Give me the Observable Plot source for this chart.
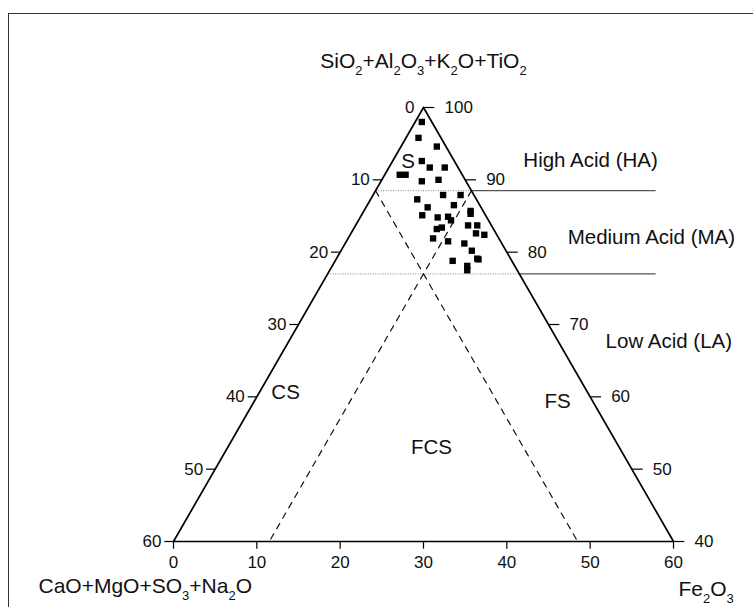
<!DOCTYPE html>
<html>
<head>
<meta charset="utf-8">
<script src="https://cdn.jsdelivr.net/npm/d3@7"></script>
<script src="https://cdn.jsdelivr.net/npm/@observablehq/plot@0.6"></script>
<style>
  html, body { margin: 0; padding: 0; background: #fff; overflow: hidden; }
  #wrap { position: relative; width: 753px; height: 607px; overflow: hidden; }
  #frame { position: absolute; left: 8px; top: 13px; width: 800px; height: 700px; border: 1px solid #333; box-sizing: border-box; pointer-events: none; }
  #chart { position: absolute; left: 0; top: 0; }
</style>
</head>
<body>
<div id="wrap"><div id="chart"></div><div id="frame"></div></div>
<script>
// ---- Data (ternary values, %) ----
// SiO2+Al2O3+K2O+TiO2
const sakt = [98.0, 95.8, 94.6, 92.6, 91.7, 91.7, 90.7, 90.7, 89.8, 90.0, 87.9, 87.9, 87.3, 86.5, 86.2, 85.7, 85.3, 85.1, 84.8, 84.9, 84.4, 83.7, 83.7, 83.4, 83.2, 82.6, 82.4, 81.9, 81.5, 81.2, 80.2, 79.1, 79.0, 78.8, 78.1, 77.5];
// Fe2O3
const fe2o3 = [0.8, 1.5, 4.3, 3.5, 4.9, 6.7, 1.8, 2.5, 4.9, 6.8, 8.4, 10.5, 5.6, 10.4, 7.4, 12.8, 13.0, 7.3, 9.3, 10.5, 11.1, 13.5, 14.6, 10.5, 10.0, 15.0, 16.1, 10.2, 12.2, 14.3, 15.7, 16.9, 17.1, 14.1, 16.2, 16.5];
// CaO+MgO+SO3+Na2O = remainder
const cmsn = sakt.map((a, i) => +(100 - a - fe2o3[i]).toFixed(1));

// Axis ticks
const leftTicks = [0, 10, 20, 30, 40, 50, 60];        // CaO+MgO+SO3+Na2O
const rightTicks = [100, 90, 80, 70, 60, 50, 40];     // SiO2+Al2O3+K2O+TiO2
const bottomTicks = [0, 10, 20, 30, 40, 50, 60];      // Fe2O3

// Classification boundaries
const acidLimits = [88.5, 77];     // HA / MA / LA on SiO2+Al2O3+K2O+TiO2
const fieldLimit = 11.5;           // dashed boundaries (C = 11.5, F = 11.5)
const minA = 40;

// Titles and labels
const topTitle = "SiO2+Al2O3+K2O+TiO2";
const leftTitle = "CaO+MgO+SO3+Na2O";
const rightTitle = "Fe2O3";
const acidNames = ["High Acid (HA)", "Medium Acid (MA)", "Low Acid (LA)"];
const fieldNames = ["S", "CS", "FS", "FCS"];

// ---- Ternary -> plane (x = F - C, y = A) ----
const P = (A, C, F) => ({x: F - C, y: A});

const tri = [P(100, 0, 0), P(40, 60, 0), P(40, 0, 60), P(100, 0, 0)];
const dashC = [P(100 - fieldLimit, fieldLimit, 0), P(minA, fieldLimit, 100 - minA - fieldLimit)];
const dashF = [P(100 - fieldLimit, 0, fieldLimit), P(minA, 100 - minA - fieldLimit, fieldLimit)];
const lineEndX = 55.7;
const dotted = acidLimits.map(a => ({x1: -(100 - a), x2: 100 - a, y: a}));
const solid = acidLimits.map(a => ({x1: 100 - a, x2: lineEndX, y: a}));

const pts = sakt.map((a, i) => P(a, cmsn[i], fe2o3[i]));

const leftPos = leftTicks.map(c => ({...P(100 - c, c, 0), v: c}));
const rightPos = rightTicks.map(a => ({...P(a, 0, 100 - a), v: a}));
const bottomPos = bottomTicks.map(f => ({...P(minA, 100 - minA - f, f), v: f}));

const acidMid = [{x: 40.1, y: 92.7, t: acidNames[0]}];
const acidStart = [
  {x: 34.6, y: 82.0, t: acidNames[1]},
  {x: 43.7, y: 67.6, t: acidNames[2]}
];
const fieldLabels = [
  {x: -3.7, y: 92.5, t: fieldNames[0]},
  {x: -33.1, y: 60.6, t: fieldNames[1]},
  {x: 32.2, y: 59.3, t: fieldNames[2]},
  {x: 1.9, y: 53.0, t: fieldNames[3]}
];
const titleMid = [{x: 0, y: 106.4, t: topTitle}];
const titleStart = [
  {x: -92.4, y: 33.8, t: leftTitle},
  {x: 61.2, y: 33.4, t: rightTitle}
];
const allTitles = [topTitle, leftTitle, rightTitle];

const FONT = "'Liberation Sans', Arial, Helvetica, sans-serif";
const INK = "#111";

const plot = Plot.plot({
  width: 753,
  height: 607,
  margin: 0,
  style: {fontFamily: FONT, background: "transparent", overflow: "visible"},
  x: {type: "linear", domain: [-60, 60], range: [173, 673], axis: null},
  y: {type: "linear", domain: [40, 100], range: [541, 107], axis: null},
  marks: [
    // dotted acid boundaries inside triangle
    Plot.link(dotted, {x1: "x1", x2: "x2", y1: "y", y2: "y", stroke: "#9a9a9a", strokeWidth: 1.2, strokeDasharray: "1,1.5"}),
    // solid extensions to the right
    Plot.link(solid, {x1: "x1", x2: "x2", y1: "y", y2: "y", stroke: "#555", strokeWidth: 1.2}),
    // dashed field boundaries
    Plot.line(dashC, {x: "x", y: "y", stroke: "#111", strokeWidth: 1.2, strokeDasharray: "6,6"}),
    Plot.line(dashF, {x: "x", y: "y", stroke: "#111", strokeWidth: 1.2, strokeDasharray: "6,6"}),
    // triangle
    Plot.line(tri, {x: "x", y: "y", stroke: "#000", strokeWidth: 1.7, strokeLinejoin: "miter"}),
    // left ticks (no tick at apex)
    Plot.link(leftPos.filter(d => d.v > 0), {x1: "x", y1: "y", x2: d => d.x - 2.2, y2: "y", stroke: "#000", strokeWidth: 1.2}),
    Plot.text(leftPos.filter(d => d.v > 0), {x: "x", y: "y", text: d => String(d.v), dx: -12, textAnchor: "end", fontSize: 17, fill: INK}),
    Plot.text(leftPos.filter(d => d.v === 0), {x: "x", y: "y", text: d => String(d.v), dx: -9, textAnchor: "end", fontSize: 17, fill: INK}),
    // right ticks
    Plot.link(rightPos, {x1: "x", y1: "y", x2: d => d.x + 2.6, y2: "y", stroke: "#000", strokeWidth: 1.2}),
    Plot.text(rightPos, {x: "x", y: "y", text: d => String(d.v), dx: 21, textAnchor: "start", fontSize: 17, fill: INK}),
    // bottom ticks
    Plot.link(bottomPos, {x1: "x", y1: "y", x2: "x", y2: d => d.y - 1.0, stroke: "#000", strokeWidth: 1.2}),
    Plot.text(bottomPos, {x: "x", y: "y", text: d => String(d.v), dy: 21, fontSize: 17, fill: INK}),
    // data points
    Plot.dot(pts, {x: "x", y: "y", symbol: "square", r: 3.6, fill: "#000", stroke: "none"}),
    // labels
    Plot.text(acidMid, {x: "x", y: "y", text: "t", textAnchor: "middle", fontSize: 20.5, fill: INK}),
    Plot.text(acidStart, {x: "x", y: "y", text: "t", textAnchor: "start", fontSize: 20.5, fill: INK}),
    Plot.text(fieldLabels, {x: "x", y: "y", text: "t", textAnchor: "middle", fontSize: 20.5, fill: INK}),
    Plot.text(titleMid, {x: "x", y: "y", text: "t", textAnchor: "middle", fontSize: 21, fill: INK}),
    Plot.text(titleStart, {x: "x", y: "y", text: "t", textAnchor: "start", fontSize: 21, fill: INK})
  ]
});
document.getElementById("chart").appendChild(plot);

// subscripts in chemical formulas (real text, tspans)
const svgNS = "http://www.w3.org/2000/svg";
d3.select(plot).selectAll("text").each(function() {
  const s = this.textContent;
  if (allTitles.includes(s)) {
    this.textContent = "";
    const parts = s.match(/\d+|\D+/g);
    let shifted = false;
    for (const p of parts) {
      const ts = document.createElementNS(svgNS, "tspan");
      ts.textContent = p;
      if (/^\d+$/.test(p)) {
        ts.setAttribute("font-size", "13");
        ts.setAttribute("dy", "7");
        shifted = true;
      } else if (shifted) {
        ts.setAttribute("dy", "-7");
        shifted = false;
      }
      this.appendChild(ts);
    }
  }
});
</script>
</body>
</html>
